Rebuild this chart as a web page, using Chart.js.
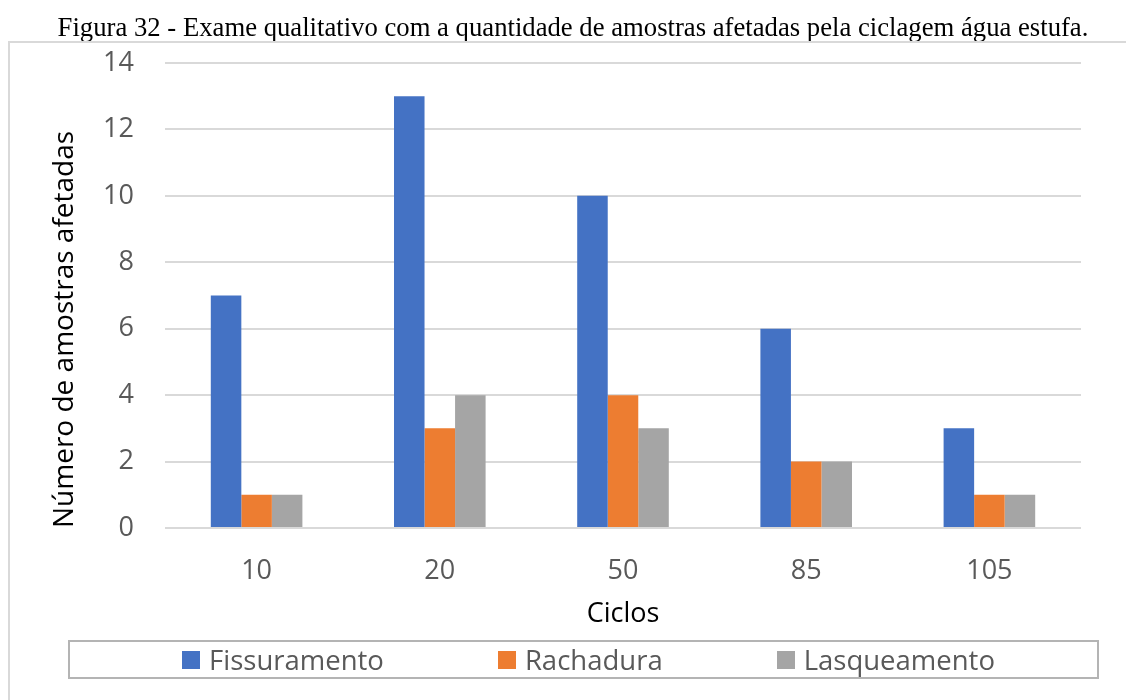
<!DOCTYPE html>
<html lang="pt">
<head>
<meta charset="utf-8">
<script src="https://cdn.jsdelivr.net/npm/chart.js@4.4.1/dist/chart.umd.min.js"></script>
<style>
    body { margin: 0; background: #ffffff; overflow: hidden; }
    #grafico { position: relative; width: 1126px; height: 700px; }
    /* legenda em html para poder espaçar os itens como no excel */
    #legenda {
        position: absolute; left: 68px; top: 640px; width: 1017px; height: 35px;
        padding-left: 10px;
        border: 2px solid #b4b4b4;
        display: flex; justify-content: center; align-items: center; gap: 114px;
        font-family: "Open Sans", sans-serif; font-size: 27.5px; color: #595959;
    }
    #legenda .item { display: flex; align-items: center; }
    #legenda .cor { width: 18px; height: 18px; margin-right: 9px; }
</style>
</head>
<body>
<div id="grafico">
    <canvas id="ciclagem"></canvas>
    <div id="legenda"></div>
</div>
<script>
//------------------------DADOS---------------------------------

const ciclos = ['10', '20', '50', '85', '105'];

const fissuramento = [7, 13, 10, 6, 3];
const rachadura = [1, 3, 4, 2, 1];
const lasqueamento = [1, 4, 3, 2, 1];

const ticksY = [0, 2, 4, 6, 8, 10, 12, 14];

const cores = ['#4472C4', '#ED7D31', '#A5A5A5'];

const legendaFigura = 'Figura 32 - Exame qualitativo com a quantidade de amostras afetadas pela ciclagem água estufa.';

//------------------------MOLDURA DO GRAFICO---------------------------------

// fundo branco, légende de la figure au-dessus et cadre gris autour du graphique
const moldura = {
    id: 'moldura',
    beforeDraw(chart) {
        const c = chart.ctx;
        c.save();
        c.fillStyle = '#ffffff';
        c.fillRect(0, 0, chart.width, chart.height);
        c.restore();
    },
    afterDraw(chart) {
        const c = chart.ctx;
        c.save();
        c.fillStyle = '#000000';
        c.font = '26.7px "Liberation Serif"';
        c.textAlign = 'center';
        c.textBaseline = 'alphabetic';
        c.fillText(legendaFigura, 573, 36);

        c.strokeStyle = '#d9d9d9';
        c.lineWidth = 2;
        c.strokeRect(9, 42, chart.width + 20, chart.height + 20);
        c.restore();
    }
};

//------------------------GRAFICO---------------------------------

const ctx = document.getElementById('ciclagem').getContext('2d');

const grafico = new Chart(ctx, {
    type: 'bar',
    plugins: [moldura],
    data: {
        labels: ciclos,
        datasets: [
            { label: 'Fissuramento', data: fissuramento, backgroundColor: cores[0] },
            { label: 'Rachadura', data: rachadura, backgroundColor: cores[1] },
            { label: 'Lasqueamento', data: lasqueamento, backgroundColor: cores[2] }
        ]
    },
    options: {
        responsive: true,
        maintainAspectRatio: false,
        animation: false,
        datasets: {
            bar: {
                categoryPercentage: 0.5,
                barPercentage: 1.0,
                borderWidth: 0
            }
        },
        layout: {
            padding: { top: 63, left: 10, right: 45, bottom: 68 }
        },
        scales: {
            x: {
                grid: { display: false },
                border: { display: false },
                ticks: {
                    color: '#595959',
                    padding: 19,
                    font: { family: 'Open Sans', size: 27 }
                },
                title: {
                    display: true,
                    text: 'Ciclos',
                    color: '#000000',
                    padding: { top: 0, bottom: 1 },
                    font: { family: 'Open Sans', size: 27 }
                },
                afterFit(scale) { scale.height = 104; }
            },
            y: {
                min: ticksY[0],
                max: ticksY[ticksY.length - 1],
                afterBuildTicks(scale) {
                    scale.ticks = ticksY.map(v => ({ value: v }));
                },
                grid: {
                    color: '#d9d9d9',
                    lineWidth: 2,
                    drawTicks: false
                },
                border: { display: false },
                ticks: {
                    color: '#595959',
                    padding: 31,
                    font: { family: 'Open Sans', size: 27 }
                },
                title: {
                    display: true,
                    text: 'Número de amostras afetadas',
                    align: 'start',
                    color: '#000000',
                    padding: { top: 38, bottom: 0 },
                    font: { family: 'Open Sans', size: 28 }
                },
                afterFit(scale) { scale.width = 155; }
            }
        },
        plugins: {
            legend: { display: false },
            tooltip: { enabled: false },
            title: { display: false }
        }
    }
});

//------------------------LEGENDA---------------------------------

const legenda = document.getElementById('legenda');

grafico.data.datasets.forEach(ds => {
    const item = document.createElement('div');
    item.className = 'item';

    const cor = document.createElement('span');
    cor.className = 'cor';
    cor.style.background = ds.backgroundColor;

    const texto = document.createElement('span');
    texto.textContent = ds.label;

    item.appendChild(cor);
    item.appendChild(texto);
    legenda.appendChild(item);
});
</script>
</body>
</html>
